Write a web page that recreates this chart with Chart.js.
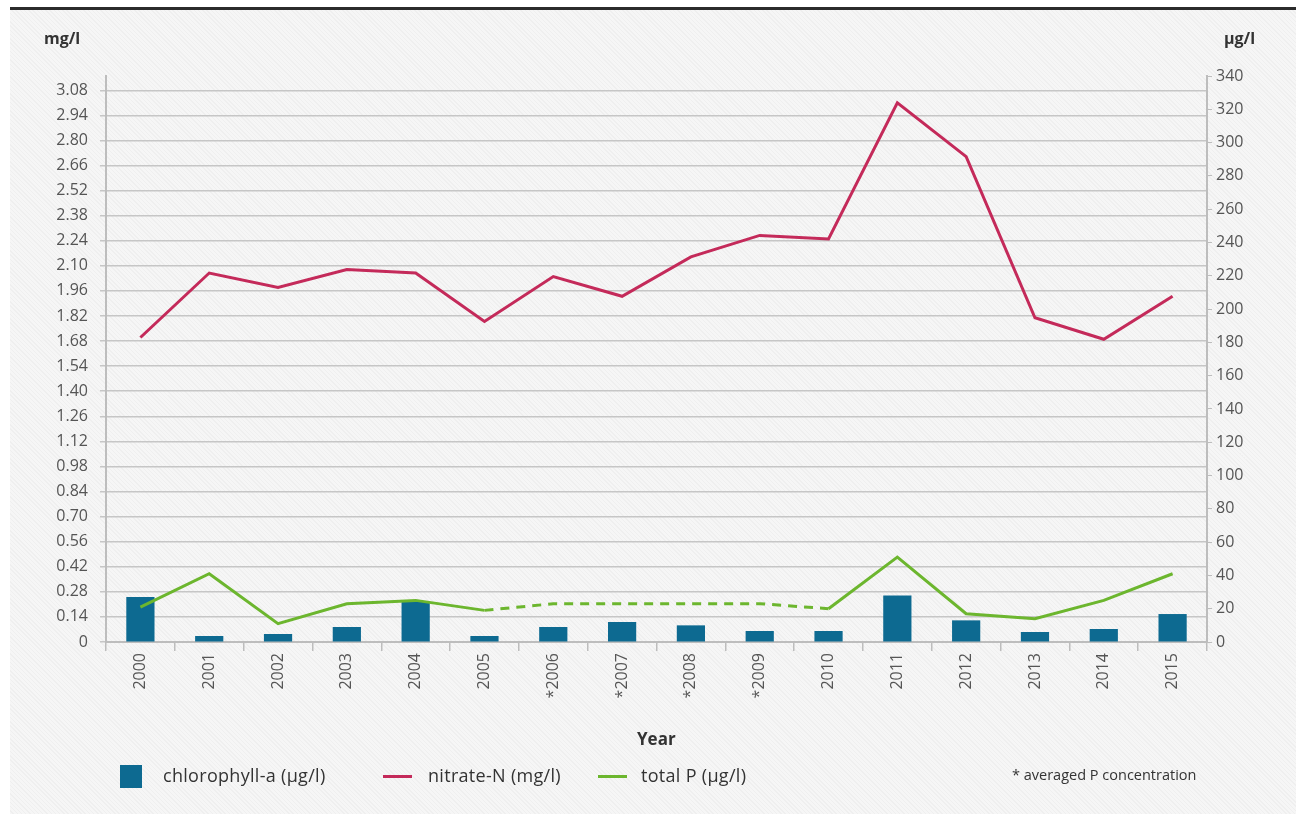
<!DOCTYPE html>
<html>
<head>
<meta charset="utf-8">
<script src="https://cdn.jsdelivr.net/npm/chart.js@4.4.1/dist/chart.umd.min.js"></script>
<style>
  html, body { margin: 0; padding: 0; background: #fff; }
  #wrap {
    position: relative; width: 1301px; height: 814px; overflow: hidden;
    font-family: "Open Sans", sans-serif; color: #444;
  }
  #panel {
    position: absolute; left: 10px; top: 10px; width: 1286px; height: 804px;
    background: repeating-linear-gradient(45deg, #f6f6f6 0 2px, #efefef 2px 3px);
  }
  #topbar { position: absolute; left: 10px; top: 7px; width: 1286px; height: 3px; background: #2b2b2b; }
  #c { position: absolute; left: 0; top: 0; }
  .unit { position: absolute; top: 27px; font-weight: bold; font-size: 16px; color: #333; }
  #year { position: absolute; left: 637px; top: 727px; font-weight: bold; font-size: 17px; color: #333; }
  .leg { position: absolute; top: 763px; font-size: 18px; color: #333; letter-spacing: 0.3px; }
  .sw { position: absolute; }
  #note { position: absolute; left: 1012px; top: 765px; font-size: 14.5px; color: #333; }
</style>
</head>
<body>
<div id="wrap">
  <div id="panel"></div>
  <div id="topbar"></div>
  <canvas id="c" width="1301" height="814"></canvas>
  <div class="unit" style="left:44px">mg/l</div>
  <div class="unit" style="left:1224px">µg/l</div>
  <div id="year">Year</div>
  <div class="sw" style="left:120px;top:765px;width:22px;height:23px;background:#0d6a91"></div>
  <div class="leg" style="left:163px">chlorophyll-a (µg/l)</div>
  <div class="sw" style="left:383px;top:775px;width:29px;height:3px;background:#c42a5a"></div>
  <div class="leg" style="left:428px">nitrate-N (mg/l)</div>
  <div class="sw" style="left:598px;top:775px;width:29px;height:3px;background:#6cb62e"></div>
  <div class="leg" style="left:641px">total P (µg/l)</div>
  <div id="note">* averaged P concentration</div>
</div>
<script>
// 연도 (별표 = 평균 P 농도)
const years = ['2000', '2001', '2002', '2003', '2004', '2005', '*2006', '*2007', '*2008', '*2009',
               '2010', '2011', '2012', '2013', '2014', '2015'];
// nitrate-N (mg/l) - 왼쪽 축
const nitrateN = [1.70, 2.06, 1.98, 2.08, 2.06, 1.79, 2.04, 1.93, 2.15, 2.27, 2.25, 3.01, 2.71, 1.81, 1.69, 1.93];
// total P (µg/l) - 오른쪽 축
const totalP = [21, 41, 11, 23, 25, 19, 23, 23, 23, 23, 20, 51, 17, 14, 25, 41];
// chlorophyll-a (µg/l) - 오른쪽 축
const chlorophyllA = [27, 3.6, 4.8, 9, 24, 3.6, 9, 12, 10, 6.6, 6.6, 28, 13, 6, 7.8, 16.8];
// 평균값 구간 (점선)
const averagedFrom = 5, averagedTo = 10;

// 왼쪽 축 눈금: 0 ~ 3.08, 0.14 간격
const leftTickCount = 23;
const leftStep = 0.14;
const leftMax = 3.16;
const rightStep = 20, rightMax = 340;

const tickFont = { family: 'Open Sans', size: 16 };
const gridColor = '#c6c6c6';

const ctx = document.getElementById('c').getContext('2d');
new Chart(ctx, {
    data: {
        labels: years,
        datasets: [
            {
                type: 'line',
                label: 'nitrate-N (mg/l)',
                data: nitrateN,
                yAxisID: 'yL',
                borderColor: '#c42a5a',
                borderWidth: 3,
                pointRadius: 0,
                tension: 0,
                order: 1
            },
            {
                type: 'line',
                label: 'total P (µg/l)',
                data: totalP,
                yAxisID: 'yR',
                borderColor: '#6cb62e',
                borderWidth: 3,
                pointRadius: 0,
                tension: 0,
                order: 2,
                segment: {
                    // 2005~2010 구간은 점선
                    borderDash: c => (c.p0DataIndex >= averagedFrom && c.p1DataIndex <= averagedTo) ? [9, 7] : undefined
                }
            },
            {
                type: 'bar',
                label: 'chlorophyll-a (µg/l)',
                data: chlorophyllA,
                yAxisID: 'yR',
                backgroundColor: '#0d6a91',
                barPercentage: 0.41,
                categoryPercentage: 1,
                order: 3
            }
        ]
    },
    options: {
        responsive: false,
        animation: false,
        layout: { padding: { top: 76, left: 0, right: 0, bottom: 0 } },
        plugins: {
            legend: { display: false },
            tooltip: { enabled: false }
        },
        scales: {
            x: {
                offset: true,
                grid: { drawOnChartArea: false, offset: true, tickLength: 9, color: '#bdbdbd', lineWidth: 1.5 },
                border: { color: '#bdbdbd', width: 2 },
                ticks: { font: tickFont, color: '#555', maxRotation: 90, minRotation: 90, padding: 2, autoSkip: false },
                afterFit: s => { s.height = 172; }
            },
            yL: {
                position: 'left',
                min: 0,
                max: leftMax,
                grid: { color: gridColor, lineWidth: 1.5, tickLength: 6 },
                border: { color: '#bdbdbd', width: 2 },
                ticks: {
                    font: tickFont,
                    color: '#555',
                    padding: 12,
                    callback: v => v === 0 ? '0' : v.toFixed(2)
                },
                afterBuildTicks: s => {
                    s.ticks = Array.from({ length: leftTickCount }, (_, i) => ({ value: +(i * leftStep).toFixed(2) }));
                },
                afterFit: s => { s.width = 106; }
            },
            yR: {
                position: 'right',
                min: 0,
                max: rightMax,
                grid: { drawOnChartArea: false, tickLength: 5, color: '#bdbdbd' },
                border: { color: '#bdbdbd', width: 2 },
                ticks: { stepSize: rightStep, font: tickFont, color: '#555', padding: 4 },
                afterFit: s => { s.width = 94; }
            }
        }
    }
});
</script>
</body>
</html>
